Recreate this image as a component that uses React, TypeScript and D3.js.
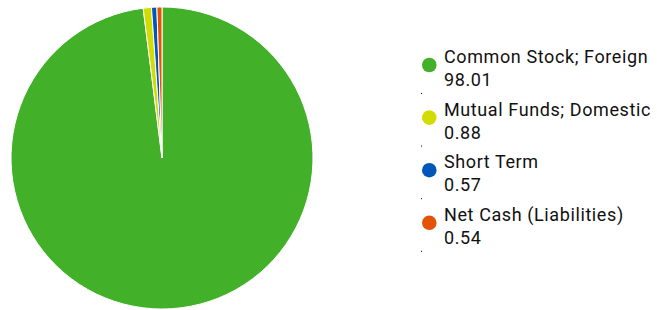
import React from "react";
import * as d3 from "d3";

const categories = ["Common Stock; Foreign", "Mutual Funds; Domestic", "Short Term", "Net Cash (Liabilities)"];
const values = [98.01, 0.88, 0.57, 0.54];
const valueLabels = ["98.01", "0.88", "0.57", "0.54"];
const colors = ["#43b02a", "#d2dc00", "#0057b8", "#e35205"];

export default function App() {
  const width = 657;
  const height = 310;
  const cx = 162;
  const cy = 158;
  const r = 151;
  const pie = d3.pie<number>().sort(null).value((d) => d)(values);
  const arc = d3.arc<d3.PieArcDatum<number>>().innerRadius(0).outerRadius(r);
  const font = "Roboto, 'Open Sans', sans-serif";
  return (
    <svg width={width} height={height} style={{ position: "absolute", left: 0, top: 0 }}>
      <g transform={`translate(${cx},${cy})`}>
        {pie.map((p, i) => (
          <path key={i} d={arc(p) || ""} fill={colors[i]} stroke="#fff" strokeWidth={1} strokeLinejoin="round" />
        ))}
      </g>
      {categories.map((c, i) => {
        const y0 = 65 + i * 52.6;
        return (
          <g key={c}>
            <circle cx={429.3} cy={y0} r={7.3} fill={colors[i]} />
            <text x={444} y={y0 - 2} fontFamily={font} fontSize={18} letterSpacing={0.6} fill="#111">{c}</text>
            <text x={444} y={y0 + 21} fontFamily={font} fontSize={18} letterSpacing={0.6} fill="#111">{valueLabels[i]}</text>
            <rect x={421} y={y0 + 28} width={1} height={1} fill="#000" />
          </g>
        );
      })}
    </svg>
  );
}
